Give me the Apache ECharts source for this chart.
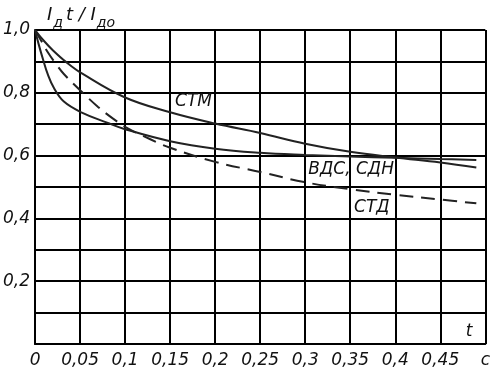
<!DOCTYPE html>
<html>
<head>
<meta charset="utf-8">
<script src="https://cdn.jsdelivr.net/npm/echarts@6/dist/echarts.min.js"></script>
<style>
  html, body { margin: 0; padding: 0; background: #fff; }
  #chart { width: 493px; height: 377px; }
</style>
</head>
<body>
<div id="chart"></div>
<script>
// СТМ (upper solid)
var stmT = [0, 0.01, 0.02, 0.035, 0.053, 0.1, 0.15, 0.2, 0.25, 0.3, 0.35, 0.4, 0.45, 0.49];
var stmV = [1.0, 0.965, 0.935, 0.897, 0.86, 0.785, 0.738, 0.702, 0.672, 0.638, 0.612, 0.594, 0.578, 0.562];
// ВДС, СДН (lower solid)
var vdsT = [0, 0.004, 0.009, 0.014, 0.021, 0.032, 0.052, 0.08, 0.1, 0.15, 0.2, 0.25, 0.3, 0.35, 0.4, 0.45, 0.49];
var vdsV = [1.0, 0.955, 0.905, 0.86, 0.815, 0.772, 0.737, 0.705, 0.684, 0.646, 0.622, 0.609, 0.602, 0.597, 0.593, 0.589, 0.586];
// СТД (dashed)
var stdT = [0, 0.007, 0.014, 0.023, 0.032, 0.053, 0.07, 0.087, 0.103, 0.128, 0.15, 0.2, 0.25, 0.3, 0.35, 0.4, 0.45, 0.49];
var stdV = [1.0, 0.965, 0.93, 0.893, 0.86, 0.80, 0.755, 0.717, 0.687, 0.652, 0.625, 0.58, 0.548, 0.515, 0.493, 0.475, 0.46, 0.448];

var yLabels = ['0,2', '0,4', '0,6', '0,8', '1,0'];

function pairs(t, v) {
  return t.map(function (x, i) { return [x, v[i]]; });
}

var font = 'DejaVu Sans';
var txt = { fontFamily: font, fontStyle: 'italic', fontSize: 17, color: '#111' };

function note(text, t, v) {
  return {
    coord: [t, v],
    symbolSize: 0,
    label: Object.assign({ show: true, formatter: text, position: 'inside' }, txt)
  };
}

var chart = echarts.init(document.getElementById('chart'), null, { renderer: 'canvas' });
var option = {
  animation: false,
  backgroundColor: '#fff',
  title: {
    left: 42,
    top: 1,
    text: '{i|I}{s|д}{i|t / I}{s|до}',
    textStyle: {
      fontWeight: 'normal',
      rich: {
        i: { fontFamily: font, fontStyle: 'italic', fontWeight: 'normal', fontSize: 18, color: '#111', lineHeight: 24, verticalAlign: 'top' },
        s: { fontFamily: font, fontStyle: 'italic', fontWeight: 'normal', fontSize: 14, color: '#111', lineHeight: 24, verticalAlign: 'bottom', padding: [7, 3, 0, 1] }
      }
    }
  },
  grid: { left: 34, right: 7, top: 30, bottom: 33 },
  xAxis: {
    type: 'value',
    min: 0,
    max: 0.5,
    interval: 0.05,
    axisLine: { lineStyle: { color: '#000', width: 2 } },
    axisTick: { show: false },
    splitLine: { lineStyle: { color: '#000', width: 2 } },
    axisLabel: Object.assign({
      margin: 8,
      showMaxLabel: true,
      formatter: function (v) {
        if (Math.abs(v - 0.5) < 1e-6) return 'c';
        if (v === 0) return '0';
        return String(+v.toFixed(2)).replace('.', ',');
      }
    }, txt)
  },
  yAxis: {
    type: 'value',
    min: 0,
    max: 1,
    interval: 0.1,
    axisLine: { show: true, lineStyle: { color: '#000', width: 2 } },
    axisTick: { show: false },
    splitLine: { lineStyle: { color: '#000', width: 2 } },
    axisLabel: Object.assign({
      margin: 5,
      formatter: function (v) {
        var k = Math.round(v * 10);
        if (k === 0 || k % 2) return '';
        return yLabels[k / 2 - 1];
      }
    }, txt)
  },
  series: [
    {
      name: 'СТМ',
      type: 'line',
      smooth: 0.4,
      symbol: 'none',
      lineStyle: { color: '#222', width: 2 },
      data: pairs(stmT, stmV),
      markPoint: {
        symbol: 'circle',
        data: [note('СТМ', 0.176, 0.771), note('t', 0.482, 0.038)]
      }
    },
    {
      name: 'ВДС, СДН',
      type: 'line',
      smooth: 0.4,
      symbol: 'none',
      lineStyle: { color: '#222', width: 2 },
      data: pairs(vdsT, vdsV),
      markPoint: {
        symbol: 'circle',
        data: [note('ВДС, СДН', 0.351, 0.554)]
      }
    },
    {
      name: 'СТД',
      type: 'line',
      smooth: 0.4,
      symbol: 'none',
      lineStyle: { color: '#222', width: 2, type: [14, 8] },
      data: pairs(stdT, stdV),
      markPoint: {
        symbol: 'circle',
        data: [note('СТД', 0.374, 0.433)]
      }
    }
  ]
};
chart.setOption(option);
</script>
</body>
</html>
